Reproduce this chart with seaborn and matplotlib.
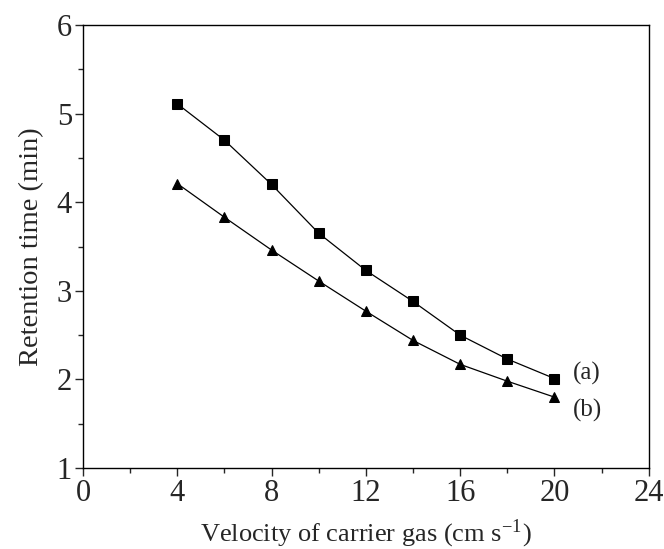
import matplotlib
matplotlib.use("Agg")
import matplotlib.pyplot as plt
import seaborn as sns
import pandas as pd
from matplotlib.ticker import MultipleLocator

velocity = [4, 6, 8, 10, 12, 14, 16, 18, 20]
series_a = [5.11, 4.70, 4.20, 3.65, 3.23, 2.88, 2.50, 2.23, 2.01]
series_b = [4.21, 3.83, 3.46, 3.11, 2.77, 2.44, 2.17, 1.98, 1.80]
labels = ["(a)", "(b)"]

sns.set_style("ticks")
plt.rcParams['font.family'] = ['Liberation Serif', 'DejaVu Serif']
plt.rcParams['mathtext.fontset'] = 'stix'

df = pd.concat([
    pd.DataFrame({"v": velocity, "t": series_a, "s": labels[0]}),
    pd.DataFrame({"v": velocity, "t": series_b, "s": labels[1]}),
])

fig = plt.figure(figsize=(6.64, 5.49), dpi=100)
ax = fig.add_axes([0.125, 0.1475, 0.852, 0.807])

sns.lineplot(data=df, x="v", y="t", style="s", markers={"(a)": "s", "(b)": "^"},
             dashes=False, color="black", linewidth=0.9, markersize=7.5,
             markeredgecolor="black", legend=False, ax=ax)

ax.set_xlim(0, 24)
ax.set_ylim(1, 6)
ax.xaxis.set_major_locator(MultipleLocator(4))
ax.xaxis.set_minor_locator(MultipleLocator(2))
ax.yaxis.set_major_locator(MultipleLocator(1))
ax.yaxis.set_minor_locator(MultipleLocator(0.5))
ax.tick_params(which="major", direction="out", length=6, width=1, labelsize=22, pad=2)
ax.tick_params(which="minor", direction="out", length=3.5, width=1)
for sp in ax.spines.values():
    sp.set_linewidth(1)
    sp.set_color("black")

ax.set_xlabel(r"Velocity of carrier gas (cm s$^{\mathregular{-1}}$)", fontsize=19, labelpad=7)
ax.set_ylabel("Retention time (min)", fontsize=20.5, labelpad=9)

ax.text(20.8, 2.07, labels[0], fontsize=18, va="center", ha="left")
ax.text(20.8, 1.65, labels[1], fontsize=18, va="center", ha="left")

fig.savefig("out.png", dpi=100)
